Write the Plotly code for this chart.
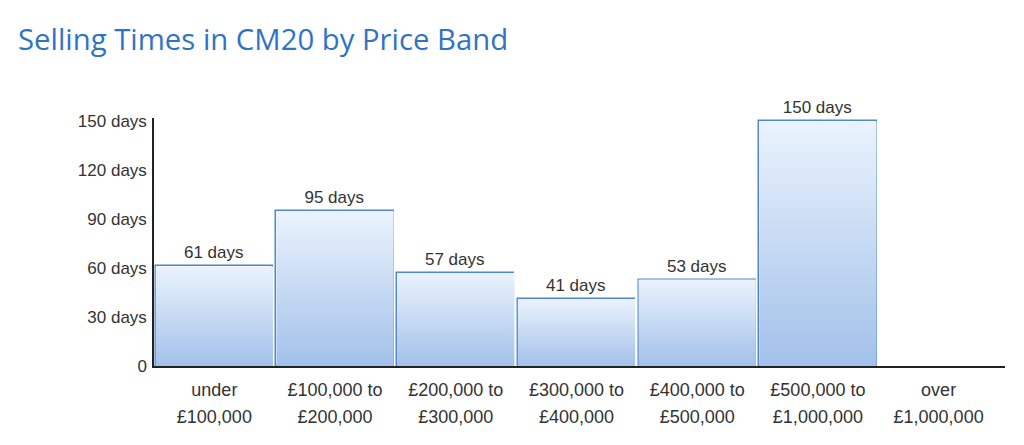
import plotly.graph_objects as go

line1 = ["under", "£100,000 to", "£200,000 to", "£300,000 to", "£400,000 to", "£500,000 to", "over"]
line2 = ["£100,000", "£200,000", "£300,000", "£400,000", "£500,000", "£1,000,000", "£1,000,000"]
days = [61, 95, 57, 41, 53, 150, None]
ytick_vals = [0, 30, 60, 90, 120, 150]
ytick_text = ["0", "30 days", "60 days", "90 days", "120 days", "150 days"]

title_text = "Selling Times in CM20 by Price Band"
positions = list(range(len(line1)))
bar_width = 0.972

fig = go.Figure()

# gradient fills behind each bar
for i, v in zip(positions, days):
    if v is None:
        continue
    x0, x1 = i - bar_width / 2, i + bar_width / 2
    fig.add_trace(go.Scatter(
        x=[x0, x1, x1, x0, x0], y=[0, 0, v, v, 0],
        mode="lines", line=dict(width=0), fill="toself",
        fillgradient=dict(type="vertical",
                          colorscale=[[0, "#a2c1ea"], [1, "#ebf3fd"]]),
        hoverinfo="skip", showlegend=False, xaxis="x", yaxis="y",
    ))

fig.add_trace(go.Bar(
    x=positions, y=days, width=bar_width,
    marker=dict(color="rgba(0,0,0,0)", line=dict(color="#4f87c9", width=1.5)),
    text=[f"{v} days" if v is not None else "" for v in days],
    textposition="outside", cliponaxis=False,
    textfont=dict(family="Liberation Sans, Arial", size=17, color="#333333"),
    showlegend=False,
))

# second line of category labels on an overlaid axis
fig.add_trace(go.Scatter(x=positions, y=[None] * len(positions), xaxis="x2",
                         mode="markers", showlegend=False, hoverinfo="skip"))

y_font = dict(family="Liberation Sans, Arial", size=17, color="#333333")
x_font = dict(family="Liberation Sans, Arial", size=18, color="#333333")
fig.update_layout(
    width=1024, height=445,
    margin=dict(l=146, r=27, t=110, b=87),
    paper_bgcolor="white", plot_bgcolor="white",
    title=dict(text=title_text, x=0.0098, xanchor="left", y=0.928, yanchor="middle",
               font=dict(family="Open Sans", size=29.3, color="#2f74c2", weight=500)),
    xaxis=dict(range=[-0.5, 6.55], tickmode="array", tickvals=positions, ticktext=line1,
               showgrid=False, zeroline=False, showline=True, linecolor="#222222",
               linewidth=1.5, ticks="", tickfont=x_font, ticklabelstandoff=7),
    xaxis2=dict(range=[-0.5, 6.55], overlaying="x", side="bottom", anchor="y",
                tickmode="array", tickvals=positions, ticktext=line2,
                showgrid=False, zeroline=False, showline=False, ticks="",
                tickfont=x_font, ticklabelstandoff=38),
    yaxis=dict(range=[0, 152], tickmode="array", tickvals=ytick_vals, ticktext=ytick_text,
               showgrid=False, zeroline=False, showline=True, linecolor="#222222",
               linewidth=1.5, ticks="", tickfont=y_font, ticklabelstandoff=2),
    bargap=0,
)

fig.write_html("out.html")
